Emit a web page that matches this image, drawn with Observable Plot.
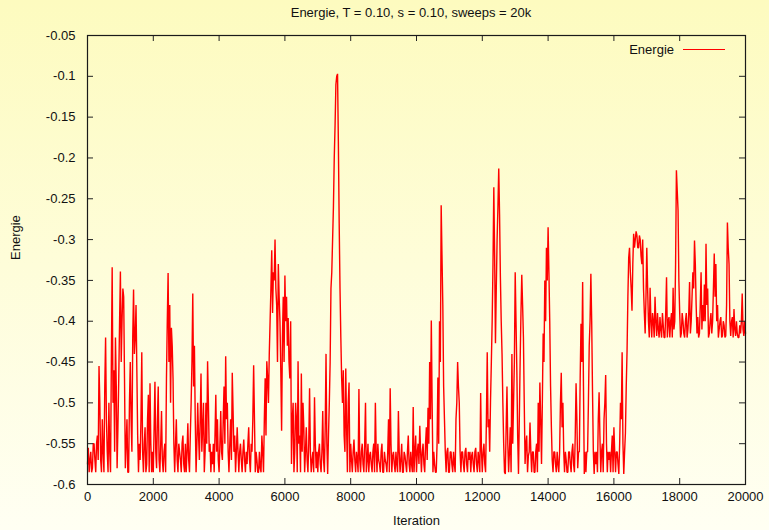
<!DOCTYPE html>
<html>
<head>
<meta charset="utf-8">
<script src="https://cdn.jsdelivr.net/npm/d3@7"></script>
<script src="https://cdn.jsdelivr.net/npm/@observablehq/plot@0.6"></script>
<style>
  html, body { margin: 0; padding: 0; }
  #chart {
    width: 769px; height: 530px; position: relative; overflow: hidden;
    background: linear-gradient(#fdfbbf, #fffff3);
    font-family: "Liberation Sans", Arial, Helvetica, sans-serif;
    color: #111;
  }
  #title {
    height: 24px; line-height: 25px; padding-left: 53px;
    text-align: center; font-size: 13px; white-space: nowrap;
  }
</style>
</head>
<body>
<div id="chart">
  <div id="title"></div>
</div>
<script>
// Simulated annealing run: energy over 20k sweeps.
const titleText = "Energie, T = 0.10, s = 0.10, sweeps = 20k";
const xLabel = "Iteration";
const yLabel = "Energie";
const seriesName = "Energie";
const iterStep = 50;   // spacing of the samples in `energie`
const midOffset = 25;  // `energieMid` holds the samples halfway between them

const xTicks = [0, 2000, 4000, 6000, 8000, 10000, 12000, 14000, 16000, 18000, 20000];
const yTicks = [-0.6, -0.55, -0.5, -0.45, -0.4, -0.35, -0.3, -0.25, -0.2, -0.15, -0.1, -0.05];

// samples at iteration 0, 50, 100, ... 20000
const energie = [
  -0.575,-0.585,-0.56,-0.58,-0.55,-0.585,-0.54,-0.455,-0.57,-0.52,-0.585,-0.42,-0.56,-0.50,-0.585,-0.334,-0.46,-0.42,-0.58,-0.47,
  -0.339,-0.40,-0.37,-0.58,-0.52,-0.585,-0.45,-0.56,-0.361,-0.42,-0.46,-0.585,-0.57,-0.438,-0.585,-0.53,-0.575,-0.49,-0.476,-0.585,
  -0.585,-0.474,-0.58,-0.48,-0.585,-0.51,-0.585,-0.55,-0.47,-0.341,-0.38,-0.408,-0.47,-0.585,-0.52,-0.585,-0.56,-0.585,-0.54,-0.585,
  -0.585,-0.525,-0.585,-0.50,-0.366,-0.43,-0.585,-0.50,-0.57,-0.464,-0.53,-0.585,-0.50,-0.449,-0.56,-0.585,-0.575,-0.585,-0.49,-0.52,
  -0.585,-0.51,-0.57,-0.48,-0.443,-0.50,-0.585,-0.52,-0.463,-0.56,-0.585,-0.53,-0.585,-0.55,-0.585,-0.545,-0.585,-0.575,-0.53,-0.585,
  -0.56,-0.454,-0.585,-0.57,-0.585,-0.58,-0.54,-0.585,-0.47,-0.449,-0.50,-0.40,-0.313,-0.34,-0.30,-0.38,-0.33,-0.40,-0.534,-0.37,
  -0.344,-0.37,-0.396,-0.47,-0.575,-0.50,-0.56,-0.52,-0.449,-0.54,-0.464,-0.50,-0.585,-0.53,-0.585,-0.482,-0.585,-0.56,-0.493,-0.58,
  -0.585,-0.55,-0.585,-0.51,-0.585,-0.44,-0.587,-0.50,-0.36,-0.30,-0.20,-0.11,-0.097,-0.28,-0.42,-0.50,-0.54,-0.458,-0.585,-0.475,
  -0.55,-0.585,-0.545,-0.585,-0.57,-0.483,-0.585,-0.55,-0.585,-0.50,-0.57,-0.585,-0.56,-0.585,-0.55,-0.50,-0.585,-0.57,-0.585,-0.55,
  -0.585,-0.57,-0.585,-0.52,-0.482,-0.585,-0.56,-0.585,-0.575,-0.51,-0.585,-0.55,-0.585,-0.565,-0.585,-0.54,-0.585,-0.575,-0.505,-0.56,
  -0.585,-0.55,-0.528,-0.585,-0.55,-0.585,-0.53,-0.506,-0.45,-0.399,-0.585,-0.575,-0.585,-0.469,-0.40,-0.258,-0.38,-0.52,-0.585,-0.555,
  -0.585,-0.56,-0.585,-0.575,-0.52,-0.45,-0.50,-0.585,-0.56,-0.585,-0.555,-0.585,-0.57,-0.585,-0.56,-0.585,-0.555,-0.585,-0.57,-0.488,
  -0.585,-0.55,-0.585,-0.438,-0.52,-0.497,-0.40,-0.236,-0.427,-0.30,-0.213,-0.346,-0.44,-0.55,-0.587,-0.48,-0.585,-0.53,-0.44,-0.50,
  -0.34,-0.46,-0.587,-0.45,-0.343,-0.42,-0.575,-0.54,-0.565,-0.524,-0.585,-0.56,-0.585,-0.55,-0.50,-0.475,-0.575,-0.415,-0.35,-0.31,
  -0.285,-0.40,-0.53,-0.585,-0.56,-0.585,-0.575,-0.56,-0.463,-0.50,-0.585,-0.57,-0.585,-0.56,-0.585,-0.55,-0.585,-0.476,-0.58,-0.56,
  -0.403,-0.352,-0.587,-0.585,-0.56,-0.43,-0.342,-0.486,-0.587,-0.575,-0.585,-0.487,-0.585,-0.55,-0.52,-0.466,-0.585,-0.57,-0.585,-0.54,
  -0.53,-0.585,-0.56,-0.587,-0.50,-0.438,-0.587,-0.537,-0.436,-0.322,-0.34,-0.387,-0.293,-0.30,-0.295,-0.31,-0.30,-0.33,-0.36,-0.415,
  -0.31,-0.40,-0.359,-0.42,-0.40,-0.37,-0.418,-0.41,-0.395,-0.42,-0.405,-0.42,-0.346,-0.40,-0.42,-0.39,-0.359,-0.40,-0.215,-0.264,
  -0.39,-0.415,-0.40,-0.42,-0.39,-0.41,-0.352,-0.40,-0.34,-0.301,-0.38,-0.395,-0.415,-0.34,-0.38,-0.355,-0.305,-0.36,-0.415,-0.39,
  -0.40,-0.317,-0.33,-0.38,-0.41,-0.395,-0.418,-0.405,-0.418,-0.279,-0.33,-0.418,-0.395,-0.385,-0.418,-0.415,-0.42,-0.415,-0.366,-0.418,
  -0.415
];

// samples at iteration 25, 75, 125, ... 19975
const energieMid = [
  -0.555,-0.57,-0.585,-0.55,-0.57,-0.55,-0.57,-0.50,-0.585,-0.56,-0.48,-0.52,-0.585,-0.56,-0.45,-0.50,-0.56,-0.48,-0.53,-0.40,
  -0.45,-0.36,-0.47,-0.55,-0.585,-0.50,-0.52,-0.42,-0.44,-0.38,-0.54,-0.55,-0.52,-0.56,-0.55,-0.585,-0.52,-0.585,-0.55,-0.56,
  -0.53,-0.56,-0.52,-0.57,-0.55,-0.57,-0.56,-0.585,-0.40,-0.45,-0.50,-0.43,-0.55,-0.55,-0.57,-0.55,-0.57,-0.55,-0.575,-0.55,
  -0.56,-0.57,-0.54,-0.45,-0.48,-0.52,-0.55,-0.54,-0.52,-0.56,-0.50,-0.56,-0.55,-0.50,-0.55,-0.56,-0.55,-0.54,-0.56,-0.57,
  -0.55,-0.56,-0.52,-0.55,-0.52,-0.56,-0.55,-0.57,-0.51,-0.54,-0.56,-0.56,-0.56,-0.57,-0.56,-0.57,-0.56,-0.55,-0.57,-0.55,
  -0.52,-0.52,-0.56,-0.585,-0.56,-0.585,-0.56,-0.52,-0.54,-0.47,-0.44,-0.36,-0.39,-0.35,-0.36,-0.45,-0.37,-0.46,-0.42,-0.45,
  -0.40,-0.43,-0.45,-0.40,-0.52,-0.585,-0.50,-0.585,-0.55,-0.585,-0.56,-0.53,-0.56,-0.57,-0.55,-0.56,-0.57,-0.585,-0.55,-0.56,
  -0.56,-0.575,-0.56,-0.57,-0.53,-0.55,-0.54,-0.45,-0.34,-0.26,-0.16,-0.10,-0.18,-0.36,-0.47,-0.46,-0.56,-0.53,-0.50,-0.585,
  -0.57,-0.56,-0.57,-0.56,-0.585,-0.57,-0.56,-0.575,-0.55,-0.585,-0.55,-0.565,-0.575,-0.56,-0.585,-0.56,-0.55,-0.575,-0.56,-0.585,
  -0.56,-0.575,-0.56,-0.585,-0.55,-0.565,-0.575,-0.56,-0.585,-0.56,-0.57,-0.585,-0.56,-0.575,-0.56,-0.575,-0.56,-0.585,-0.585,-0.54,
  -0.56,-0.575,-0.56,-0.56,-0.575,-0.55,-0.57,-0.55,-0.52,-0.50,-0.56,-0.585,-0.55,-0.55,-0.45,-0.32,-0.48,-0.56,-0.56,-0.585,
  -0.56,-0.575,-0.56,-0.585,-0.50,-0.48,-0.56,-0.56,-0.575,-0.56,-0.575,-0.56,-0.56,-0.565,-0.575,-0.56,-0.575,-0.56,-0.585,-0.56,
  -0.56,-0.575,-0.52,-0.53,-0.56,-0.45,-0.33,-0.32,-0.36,-0.26,-0.27,-0.40,-0.50,-0.585,-0.53,-0.55,-0.56,-0.585,-0.55,-0.45,
  -0.40,-0.54,-0.52,-0.39,-0.38,-0.50,-0.55,-0.585,-0.56,-0.56,-0.56,-0.585,-0.56,-0.585,-0.56,-0.52,-0.50,-0.45,-0.40,-0.35,
  -0.34,-0.48,-0.57,-0.56,-0.575,-0.56,-0.585,-0.50,-0.53,-0.56,-0.56,-0.585,-0.56,-0.575,-0.56,-0.575,-0.54,-0.52,-0.56,-0.47,
  -0.45,-0.48,-0.56,-0.56,-0.50,-0.40,-0.40,-0.56,-0.56,-0.56,-0.52,-0.54,-0.56,-0.585,-0.50,-0.55,-0.56,-0.56,-0.56,-0.585,
  -0.56,-0.56,-0.575,-0.55,-0.52,-0.55,-0.56,-0.48,-0.37,-0.31,-0.36,-0.33,-0.31,-0.29,-0.31,-0.295,-0.32,-0.30,-0.39,-0.37,
  -0.36,-0.42,-0.40,-0.39,-0.42,-0.40,-0.39,-0.42,-0.41,-0.39,-0.42,-0.39,-0.42,-0.395,-0.40,-0.42,-0.41,-0.33,-0.24,-0.35,
  -0.42,-0.39,-0.415,-0.40,-0.42,-0.39,-0.415,-0.37,-0.36,-0.33,-0.415,-0.42,-0.38,-0.41,-0.40,-0.40,-0.38,-0.42,-0.40,-0.415,
  -0.36,-0.37,-0.40,-0.42,-0.40,-0.42,-0.40,-0.42,-0.38,-0.31,-0.40,-0.40,-0.42,-0.41,-0.40,-0.42,-0.405,-0.40,-0.41,-0.40
];

const points = [
  ...energie.map((e, i) => ({iteration: i * iterStep, energie: e})),
  ...energieMid.map((e, i) => ({iteration: i * iterStep + midOffset, energie: e}))
].sort((a, b) => a.iteration - b.iteration);

document.getElementById("title").textContent = titleText;

const width = 769, height = 506;
const margin = {top: 11, right: 24, bottom: 46, left: 87};
const frameW = width - margin.left - margin.right;
const frameH = height - margin.top - margin.bottom;
const tickLen = 6;
const fmtY = d => String(+d.toFixed(2));

// Legend entry in the top-right corner of the frame
const legend = (index, scales, values, dims) => {
  const g = d3.create("svg:g");
  const xr = dims.width - dims.marginRight;
  const y = dims.marginTop + 14.5;
  g.append("text")
    .attr("x", xr - 71).attr("y", y).attr("dy", "0.35em")
    .attr("text-anchor", "end").attr("fill", "#111")
    .text(seriesName);
  g.append("line")
    .attr("x1", xr - 62).attr("x2", xr - 20)
    .attr("y1", y).attr("y2", y)
    .attr("stroke", "#ff0000").attr("stroke-width", 1);
  return g.node();
};

const chart = Plot.plot({
  width, height,
  marginTop: margin.top, marginRight: margin.right,
  marginBottom: margin.bottom, marginLeft: margin.left,
  style: {background: "transparent", fontFamily: "'Liberation Sans', Arial, sans-serif", fontSize: "13px", color: "#111"},
  x: {domain: [0, 20000]},
  y: {domain: [-0.6, -0.05]},
  marks: [
    Plot.lineY(points, {x: "iteration", y: "energie", stroke: "#ff0000", strokeWidth: 1.4, strokeLinejoin: "miter"}),
    // inward ticks on all four sides
    Plot.tickX(xTicks, {x: d => d, insetTop: frameH - tickLen, stroke: "#222"}),
    Plot.tickX(xTicks, {x: d => d, insetBottom: frameH - tickLen, stroke: "#222"}),
    Plot.tickY(yTicks, {y: d => d, insetRight: frameW - tickLen, stroke: "#222"}),
    Plot.tickY(yTicks, {y: d => d, insetLeft: frameW - tickLen, stroke: "#222"}),
    Plot.axisX({ticks: xTicks, tickSize: 0, tickPadding: 7, tickFormat: d => String(d), label: null, fontSize: 13}),
    Plot.axisY({ticks: yTicks, tickSize: 0, tickPadding: 12, tickFormat: fmtY, label: null, fontSize: 13}),
    Plot.text([xLabel], {frameAnchor: "bottom", dy: 36, lineAnchor: "middle", fontSize: 13, fill: "#111"}),
    Plot.text([yLabel], {frameAnchor: "left", dx: -72, rotate: -90, lineAnchor: "middle", fontSize: 13, fill: "#111"}),
    Plot.frame({stroke: "#1a1a1a", strokeWidth: 1.2}),
    legend
  ]
});

document.getElementById("chart").appendChild(chart);
</script>
</body>
</html>
